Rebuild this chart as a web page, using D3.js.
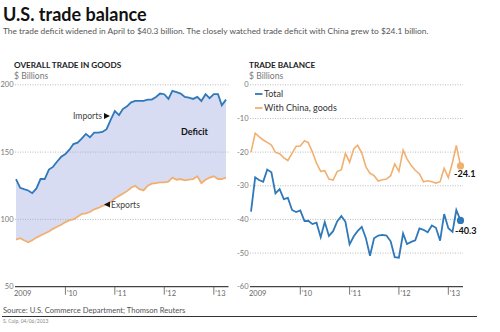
<!DOCTYPE html>
<html><head><meta charset="utf-8">
<script src="https://cdn.jsdelivr.net/npm/d3@7"></script>
<style>
html,body{margin:0;padding:0;background:#fff;}
text{font-family:Lato,"Open Sans",sans-serif;}
</style></head>
<body>
<svg id="c" width="500" height="332"></svg>
<script>
// ---- data (monthly, Jan 2009 .. Apr 2013) ----
const months = d3.range(52).map(i => new Date(2009, i, 1));
const imports = [130,123.5,122.5,121.5,119.5,123,130,130,137,139,143,146.5,
  148.5,152,156,157,160,163.5,161,164.5,164.5,165,167,174,
  180.5,177.5,182,184,187,188,188,188,189,189,191,193.5,
  193,189.5,195.5,194.5,193.5,191,190.5,189.5,191,188,193,190,
  193,193,184.7,189];
const exportsG = [85,86,84.5,83,84.5,86.5,88,89.5,91,93,94.5,96,
  98,99.5,100,102,104,104.5,105.5,107.5,108.5,110,111,113,
  115.5,117.5,119,121,123.5,125,122.5,121.5,125,126.5,127,127.5,
  127.5,128,131,129.5,130,129,129.5,130,132,127,129.5,131,
  132,130,130,131];
const total = [-37.7,-27.5,-28.3,-28.8,-25.2,-26,-32.3,-31,-34,-33.6,-37.2,-37.8,
  -37.3,-40.5,-40.4,-41.4,-41,-45.3,-40.8,-44.9,-43.5,-40.6,-39,-40.7,
  -47.4,-45,-43.5,-42.2,-45.5,-50.8,-45.6,-44.8,-44.6,-44.8,-46.5,-51.2,
  -51.4,-44.2,-47.3,-46.7,-46.2,-42.7,-43.1,-43.8,-41.8,-42.5,-46.3,-38.4,
  -42.6,-43.7,-37.2,-40.3];
const china = [-20,-14.4,-15.4,-16.4,-17.1,-17.9,-20.1,-20.5,-21.7,-22.5,-20.4,-18.3,
  -18.2,-16.6,-17.2,-20,-23.3,-25.7,-25.5,-28,-28.3,-25.8,-25.2,-20.4,
  -23,-19,-18,-20.2,-24.3,-26.3,-27,-28.6,-28.2,-28,-27,-23.5,
  -25.7,-19.4,-22,-24,-25.4,-26.5,-28.8,-28.5,-28.8,-29.2,-28.8,-24.8,
  -27.6,-23,-18,-24.1];
const yearTicks = [new Date(2009,0,1),new Date(2010,0,1),new Date(2011,0,1),new Date(2012,0,1),new Date(2013,0,1)];
const yearLabels = ["2009","'10","'11","'12","'13"];
const leftTicks = [50,100,150,200];
const rightTicks = [-60,-50,-40,-30,-20,-10,0];
const legendLabels = ["Total","With China, goods"];

const blue = "#2f78b9", orange = "#f2b070", fillC = "#d7dcf3";
const svg = d3.select("#c");
const fmt = v => String(v);
const fmt1 = v => v.toFixed(1);

// titles
svg.append("text").attr("x",3).attr("y",21).attr("font-size",18).attr("font-weight",700).attr("fill","#111").text("U.S. trade balance");
svg.append("text").attr("x",3).attr("y",34).attr("font-size",8.4).attr("fill","#555")
  .text("The trade deficit widened in April to $40.3 billion. The closely watched trade deficit with China grew to $24.1 billion.");

const yTop = 84.8, yBot = 286.7;

function panel(x0, x1, yDomain, ticks, labelX, title) {
  const x = d3.scaleTime().domain([months[0], months[51]]).range([x0, x1]);
  const y = d3.scaleLinear().domain(yDomain).range([yBot, yTop]);
  const g = svg.append("g");
  g.append("text").attr("x", labelX+2).attr("y",68).attr("font-size",8.2).attr("font-weight",700).attr("fill","#222").text(title);
  g.append("text").attr("x", labelX+2).attr("y",78.5).attr("font-size",8.6).attr("fill","#777").text("$ Billions");
  const gx0 = x0 - 1, gx1 = x1 + 2.5;
  ticks.forEach(t => {
    if (t !== yDomain[0]) {
      g.append("line").attr("x1",gx0).attr("x2",gx1).attr("y1",y(t)).attr("y2",y(t))
        .attr("stroke","#aaa").attr("stroke-width",0.8).attr("stroke-dasharray","1,1.5");
    }
    g.append("text").attr("x",gx0-1.5).attr("y",y(t)).attr("dy","0.35em").attr("text-anchor","end")
      .attr("font-size",7.5).attr("fill","#777").text(fmt(t));
  });
  return {x, y, g, gx0, gx1};
}

// Left panel
const L = panel(16, 226, [50,200], leftTicks, 12, "OVERALL TRADE IN GOODS");
L.g.insert("path", ":first-child").datum(months)
  .attr("d", d3.area().x((d,i)=>L.x(d)).y0((d,i)=>L.y(exportsG[i])).y1((d,i)=>L.y(imports[i])))
  .attr("fill", fillC);
L.g.append("path").datum(exportsG).attr("fill","none").attr("stroke",orange).attr("stroke-width",1.8)
  .attr("d", d3.line().x((d,i)=>L.x(months[i])).y(d=>L.y(d)));
L.g.append("path").datum(imports).attr("fill","none").attr("stroke",blue).attr("stroke-width",1.8)
  .attr("d", d3.line().x((d,i)=>L.x(months[i])).y(d=>L.y(d)));
L.g.append("text").attr("x",73).attr("y",119).attr("font-size",8.6).attr("fill","#444").text("Imports");
L.g.append("path").attr("d","M104,113 L110,116 L104,119 Z").attr("fill","#111");
L.g.append("path").attr("d","M110,201.5 L104,204.5 L110,207.5 Z").attr("fill","#111");
L.g.append("text").attr("x",111).attr("y",207.5).attr("font-size",8.6).attr("fill","#444").text("Exports");
L.g.append("text").attr("x",181).attr("y",135).attr("font-size",9).attr("font-weight",700).attr("fill","#111").text("Deficit");

// Right panel
const R = panel(251, 460.5, [-60,0], rightTicks, 247, "TRADE BALANCE");
R.g.append("path").datum(china).attr("fill","none").attr("stroke",orange).attr("stroke-width",1.6)
  .attr("d", d3.line().x((d,i)=>R.x(months[i])).y(d=>R.y(d)));
R.g.append("path").datum(total).attr("fill","none").attr("stroke",blue).attr("stroke-width",1.8)
  .attr("d", d3.line().x((d,i)=>R.x(months[i])).y(d=>R.y(d)));
R.g.append("circle").attr("cx",R.x(months[51])).attr("cy",R.y(china[51])).attr("r",3.6).attr("fill",orange);
R.g.append("circle").attr("cx",R.x(months[51])).attr("cy",R.y(total[51])).attr("r",3.6).attr("fill",blue);
R.g.append("text").attr("x",454).attr("y",177).attr("font-size",9.2).attr("font-weight",700).attr("fill","#111").text(fmt1(china[51]));
R.g.append("text").attr("x",455).attr("y",234).attr("font-size",9.2).attr("font-weight",700).attr("fill","#111").text(fmt1(total[51]));
// legend
[blue, orange].forEach((c,i) => {
  const ly = 94 + i*14;
  R.g.append("line").attr("x1",255).attr("x2",262.5).attr("y1",ly).attr("y2",ly).attr("stroke",c).attr("stroke-width",1.8);
  R.g.append("text").attr("x",264).attr("y",ly).attr("dy","0.35em").attr("font-size",9).attr("fill","#333").text(legendLabels[i]);
});

// x axes
[L, R].forEach(P => {
  P.g.append("line").attr("x1",P.gx0).attr("x2",P.gx1).attr("y1",yBot).attr("y2",yBot).attr("stroke","#444").attr("stroke-width",1.3);
  yearTicks.forEach((t,i) => {
    const xx = P.x(t);
    if (i > 0) P.g.append("line").attr("x1",xx).attr("x2",xx).attr("y1",yBot).attr("y2",yBot+8).attr("stroke","#555").attr("stroke-width",0.8);
    P.g.append("text").attr("x", i===0 ? xx-2 : xx+1.5).attr("y",296).attr("font-size",7.5).attr("fill","#666").text(yearLabels[i]);
  });
});

// footer
svg.append("text").attr("x",3).attr("y",312.5).attr("font-size",7.6).attr("fill","#555").text("Source: U.S. Commerce Department; Thomson Reuters");
svg.append("line").attr("x1",2).attr("x2",477).attr("y1",316.5).attr("y2",316.5).attr("stroke","#333").attr("stroke-width",1);
svg.append("text").attr("x",3).attr("y",323).attr("font-size",5).attr("fill","#888").text("S. Culp, 04/06/2013");
</script>
</body></html>
